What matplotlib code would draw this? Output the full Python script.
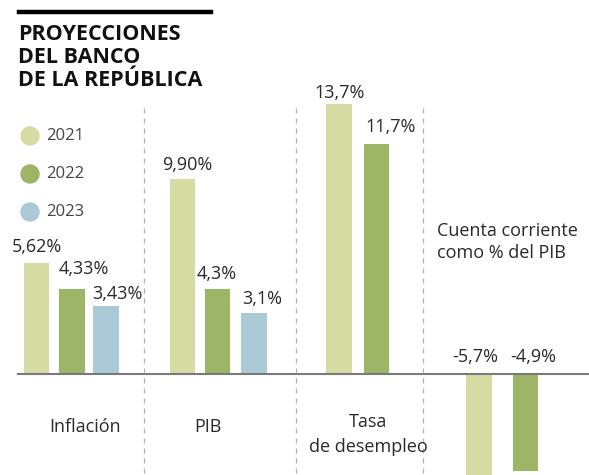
import matplotlib
matplotlib.use("Agg")
import matplotlib.pyplot as plt
from matplotlib.lines import Line2D
from matplotlib.patches import Circle

# ---- data ----
categories = ["Inflación", "PIB", "Tasa\nde desempleo", "Cuenta corriente\ncomo % del PIB"]
years = ["2021", "2022", "2023"]
values_2021 = [5.62, 9.90, 13.7, -5.7]
values_2022 = [4.33, 4.3, 11.7, -4.9]
values_2023 = [3.43, 3.1, None, None]
labels_2021 = ["5,62%", "9,90%", "13,7%", "-5,7%"]
labels_2022 = ["4,33%", "4,3%", "11,7%", "-4,9%"]
labels_2023 = ["3,43%", "3,1%", None, None]
title_lines = ["PROYECCIONES", "DEL BANCO", "DE LA REPÚBLICA"]

# ---- layout (pixels) ----
W, H = 589, 475
DPI = 100
zero_px = 374          # zero line, from top
scale = 19.7           # px per unit
bar_w = 25.5
bar_x = {  # bar centres in pixels
    "2021": [36.5, 182.5, 339, 479],
    "2022": [72, 217.5, 376.5, 525.5],
    "2023": [106, 254, None, None],
}
label_dx = {"2021": [0, 5, 1, -4], "2022": [12, -1, 14, 8], "2023": [11, 8, 0, 0]}
label_dy = {"2021": [16, 14, 11, 0], "2022": [20, 15, 17, 0], "2023": [12, 14, 0, 0]}
colors = {"2021": "#d5dba3", "2022": "#9db566", "2023": "#aacad7"}
text_col = "#2a2a2a"
font = ["Open Sans", "DejaVu Sans"]

fig = plt.figure(figsize=(W / DPI, H / DPI), dpi=DPI)
fig.patch.set_facecolor("white")
ax = fig.add_axes([0, 0, 1, 1])
ax.set_xlim(0, W)
ax.set_ylim(-(H - zero_px) / scale, zero_px / scale)
ax.axis("off")


def fx(x):
    return x / W


def fy(y):
    return 1 - y / H


series = {"2021": (values_2021, labels_2021),
          "2022": (values_2022, labels_2022),
          "2023": (values_2023, labels_2023)}

for yr, (vals, labs) in series.items():
    for i, (v, lab) in enumerate(zip(vals, labs)):
        if v is None:
            continue
        xc = bar_x[yr][i]
        ax.bar(xc, v, width=bar_w, color=colors[yr], edgecolor="none", zorder=2)
        if v >= 0:
            ax.annotate(lab, (xc, v), xytext=(label_dx[yr][i], label_dy[yr][i]),
                        textcoords="offset pixels", ha="center", va="center",
                        fontsize=13, color=text_col, family=font)
        else:
            ax.annotate(lab, (xc, 0), xytext=(label_dx[yr][i], 17),
                        textcoords="offset pixels", ha="center", va="center",
                        fontsize=13, color=text_col, family=font)

# zero line
ax.axhline(0, xmin=18 / W, xmax=1, color="#7a7a7a", lw=1.5, zorder=3)

# dashed separators
for xs in [144, 296, 423]:
    fig.add_artist(Line2D([fx(xs), fx(xs)], [fy(108), fy(H)], color="#b0b0b0",
                          lw=0.9, ls=(0, (4, 4)), transform=fig.transFigure))

# category labels
cat_pos = [(85, 427, "center", 1.2), (208, 427, "center", 1.2),
           (368, 434.5, "center", 1.55), (437, 242, "left", 1.25)]
for (x, y, ha, ls), cat in zip(cat_pos, categories):
    fig.text(fx(x), fy(y), cat, ha=ha, va="center", fontsize=13, color=text_col,
             family=font, linespacing=ls)

# top rule
fig.add_artist(Line2D([fx(19), fx(211)], [fy(12), fy(12)], color="black", lw=3.2,
                      transform=fig.transFigure))

# title
for k, t in enumerate(title_lines):
    fig.text(fx(18), fy(34 + 23.5 * k), t, ha="left", va="center", fontsize=15.5,
             fontweight="bold", color="#111111", family=font)

# legend
for k, yr in enumerate(years):
    yc = 136 + 38 * k
    fig.add_artist(Circle((30, H - yc), 9, color=colors[yr], transform=None))
    fig.text(fx(46), fy(yc), yr, ha="left", va="center", fontsize=12, color="#444444",
             family=font)

fig.savefig("out.png", dpi=DPI, facecolor="white")
